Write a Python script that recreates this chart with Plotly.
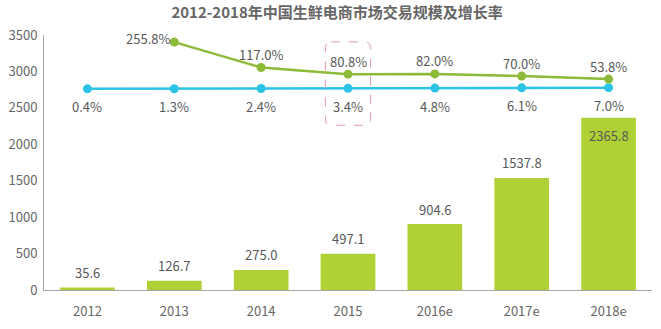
import plotly.graph_objects as go

years = ["2012", "2013", "2014", "2015", "2016e", "2017e", "2018e"]
scale = [35.6, 126.7, 275.0, 497.1, 904.6, 1537.8, 2365.8]
growth_x = ["2013", "2014", "2015", "2016e", "2017e", "2018e"]
growth = [255.8, 117.0, 80.8, 82.0, 70.0, 53.8]
penetration = [0.4, 1.3, 2.4, 3.4, 4.8, 6.1, 7.0]

FONT = "Noto Sans CJK SC, Noto Sans, sans-serif"
GRAY = "#595959"
LBL = dict(family=FONT, size=13, color=GRAY)

fig = go.Figure()

fig.add_trace(go.Bar(
    x=years, y=scale,
    marker=dict(color="#AFD135", line=dict(width=0)),
    showlegend=False, hoverinfo="x+y",
))

fig.add_trace(go.Scatter(
    x=years, y=penetration, yaxis="y2",
    mode="lines+markers",
    line=dict(color="#2CC3E6", width=2.5),
    marker=dict(color="#2CC3E6", size=9),
    showlegend=False,
))

fig.add_trace(go.Scatter(
    x=growth_x, y=growth, yaxis="y2",
    mode="lines+markers",
    line=dict(color="#8DBA38", width=2.5),
    marker=dict(color="#8DBA38", size=9),
    showlegend=False,
))

idx = {c: i for i, c in enumerate(years)}

# bar value labels
for x, v in zip(years, scale):
    inside = v > 2000
    fig.add_annotation(
        x=idx[x], y=v, xref="x", yref="y", text=f"{v:.1f}", showarrow=False,
        yanchor="middle", yshift=-18 if inside else 15, font=LBL,
    )

# penetration labels (below points)
for x, v in zip(years, penetration):
    fig.add_annotation(
        x=idx[x], y=v, xref="x", yref="y2", text=f"{v:.1f}%", showarrow=False,
        yanchor="middle", yshift=-18, font=LBL,
    )

# growth labels (above points)
for i, (x, v) in enumerate(zip(growth_x, growth)):
    if i == 0:
        fig.add_annotation(
            x=idx[x], y=v, xref="x", yref="y2", text=f"{v:.1f}%", showarrow=False,
            xanchor="right", yanchor="middle", xshift=-2, yshift=4, font=LBL,
        )
    else:
        fig.add_annotation(
            x=idx[x], y=v, xref="x", yref="y2", text=f"{v:.1f}%", showarrow=False,
            yanchor="middle", yshift=13, font=LBL,
        )

# rounded dashed highlight box around 2015 labels (paper coordinates)
n = len(years)
c = idx["2015"]
bx0 = (c - 0.26 + 0.5) / n
bx1 = (c + 0.26 + 0.5) / n
by0, by1 = 0.646, 0.973
rx, ry = 0.009, 0.022
path = (
    f"M {bx0 + rx},{by1} L {bx1 - rx},{by1} Q {bx1},{by1} {bx1},{by1 - ry} "
    f"L {bx1},{by0 + ry} Q {bx1},{by0} {bx1 - rx},{by0} "
    f"L {bx0 + rx},{by0} Q {bx0},{by0} {bx0},{by0 + ry} "
    f"L {bx0},{by1 - ry} Q {bx0},{by1} {bx0 + rx},{by1} Z"
)
fig.add_shape(
    type="path", xref="paper", yref="paper", path=path,
    line=dict(color="#E39BB0", width=1, dash="dash"),
)

fig.update_layout(
    width=661, height=329,
    margin=dict(l=44, r=9, t=35, b=34),
    paper_bgcolor="white", plot_bgcolor="white",
    title=dict(
        text="<b>2012-2018年中国生鲜电商市场交易规模及增长率</b>",
        x=0.51, xanchor="center", y=0.962, yanchor="middle",
        font=dict(family=FONT, size=15, color="#666666"),
    ),
    bargap=0.37,
    xaxis=dict(
        type="category", categoryorder="array", categoryarray=years,
        range=[-0.5, len(years) - 0.5], autorange=False,
        showline=True, linecolor="#A6A6A6", linewidth=1,
        showgrid=False, ticks="", ticklabelstandoff=9,
        tickfont=dict(family=FONT, size=13, color="#666666"),
    ),
    yaxis=dict(
        range=[0, 3500], dtick=500, autorange=False,
        showline=True, linecolor="#A6A6A6", linewidth=1,
        showgrid=False, zeroline=False, ticks="", ticklabelstandoff=3,
        tickfont=dict(family=FONT, size=13, color="#666666"),
    ),
    yaxis2=dict(
        overlaying="y", range=[-1098.6, 294.7], autorange=False,
        visible=False, showgrid=False, zeroline=False,
    ),
)

fig.write_html("out.html")
